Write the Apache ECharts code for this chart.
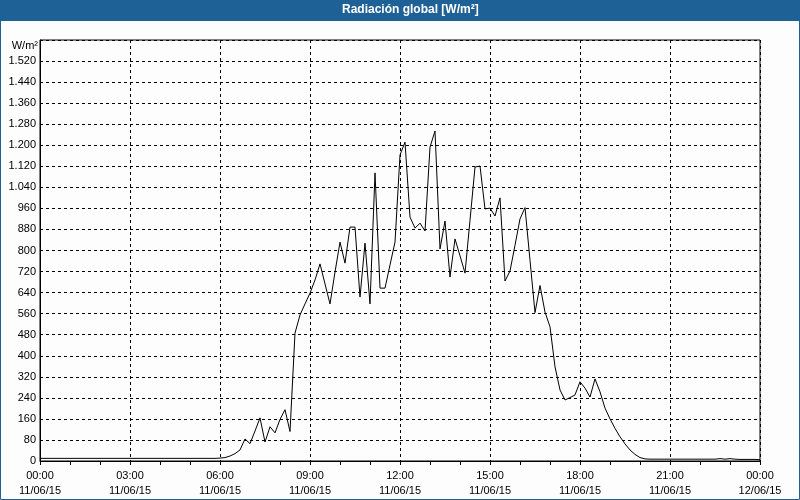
<!DOCTYPE html>
<html>
<head>
<meta charset="utf-8">
<script src="https://cdn.jsdelivr.net/npm/echarts@6/dist/echarts.min.js"></script>
<style>
html,body{margin:0;padding:0;background:#fcfdfc;}
#c{width:800px;height:500px;}
</style>
</head>
<body>
<div id="c"></div>
<script>
// Category labels: 10-minute readings over 11/06/15
const times = [];
for (let h = 0; h <= 24; h++) {
  for (let m = 0; m < 60; m += 10) {
    if (h === 24 && m > 0) break;
    times.push(String(h % 24).padStart(2, '0') + ':' + String(m).padStart(2, '0'));
  }
}
const dayLabel = '11/06/15';
const nextDayLabel = '12/06/15';

// Global radiation, W/m²
const radiation = [
  10,10,10,10,10,10,10,10,10,10,10,10,
  10,10,10,10,10,10,10,10,10,10,10,10,
  10,10,10,10,10,10,10,10,10,10,10,10,
  11,13,19,28,42,84,66,114,164,72,130,107,
  158,195,112,486,555,597,638,688,749,673,597,718,
  832,752,889,889,623,828,597,1095,657,657,745,832,
  1163,1212,927,885,904,874,1193,1254,806,912,699,844,
  780,714,915,1117,1121,958,961,931,1000,684,722,820,
  920,963,763,564,667,566,510,358,270,232,241,251,
  301,277,243,312,263,201,160,124,92,65,42,25,
  13,8,7,7,7,7,7,7,7,7,7,7,
  7,7,7,7,9,7,9,7,6,6,6,6,
  5
];

const yMax = 1600;
const yStep = 80;
const titleText = 'Radiación global [W/m²]';
const unitText = 'W/m²';

const FONT = '"Liberation Sans", "DejaVu Sans", sans-serif';

function fmtThousands(v) {
  if (v >= yMax) return '';
  if (v >= 1000) return Math.floor(v / 1000) + '.' + String(v % 1000).padStart(3, '0');
  return String(v);
}

const chart = echarts.init(document.getElementById('c'), null, {renderer: 'canvas'});
chart.setOption({
  backgroundColor: '#fcfdfc',
  animation: false,
  graphic: [
    {type: 'rect', shape: {x: 0, y: 0, width: 800, height: 21}, style: {fill: '#1d6197'}, silent: true},
    {type: 'rect', shape: {x: 0.5, y: 0.5, width: 799, height: 499}, style: {fill: 'none', stroke: '#1d6197', lineWidth: 1}, silent: true},
    {type: 'text', left: 342, top: 4, style: {text: titleText, fill: '#ffffff', font: 'bold 12px ' + FONT}, silent: true},
    {type: 'text', right: 762, top: 40, style: {text: unitText, fill: '#000', font: '11px ' + FONT, align: 'right'}, silent: true}
  ],
  grid: {left: 40, right: 40, top: 40, bottom: 39, show: true, borderColor: '#000', borderWidth: 1, backgroundColor: 'transparent'},
  xAxis: {
    type: 'category',
    data: times,
    boundaryGap: false,
    axisLine: {show: true, lineStyle: {color: '#000', width: 1}},
    axisTick: {show: true, length: 4, interval: (i) => i % 6 === 0, lineStyle: {color: '#000'}},
    axisLabel: {
      interval: (i) => i % 18 === 0,
      color: '#000', fontFamily: FONT, fontSize: 11, lineHeight: 15, margin: 7,
      formatter: (val, idx) => val + '\n' + (idx === times.length - 1 ? nextDayLabel : dayLabel)
    },
    splitLine: {show: true, interval: (i) => i % 18 === 0, lineStyle: {color: '#000', type: [3, 3], width: 1}}
  },
  yAxis: {
    type: 'value',
    min: 0, max: yMax, interval: yStep,
    axisLine: {show: true, lineStyle: {color: '#000'}},
    axisTick: {show: false},
    axisLabel: {color: '#000', fontFamily: FONT, fontSize: 11, margin: 4, formatter: fmtThousands},
    splitLine: {show: true, lineStyle: {color: '#000', type: [3, 3], width: 1}}
  },
  series: [{
    type: 'line',
    data: radiation,
    showSymbol: false,
    symbol: 'none',
    lineStyle: {color: '#000', width: 1},
    z: 5
  }]
});
</script>
</body>
</html>
